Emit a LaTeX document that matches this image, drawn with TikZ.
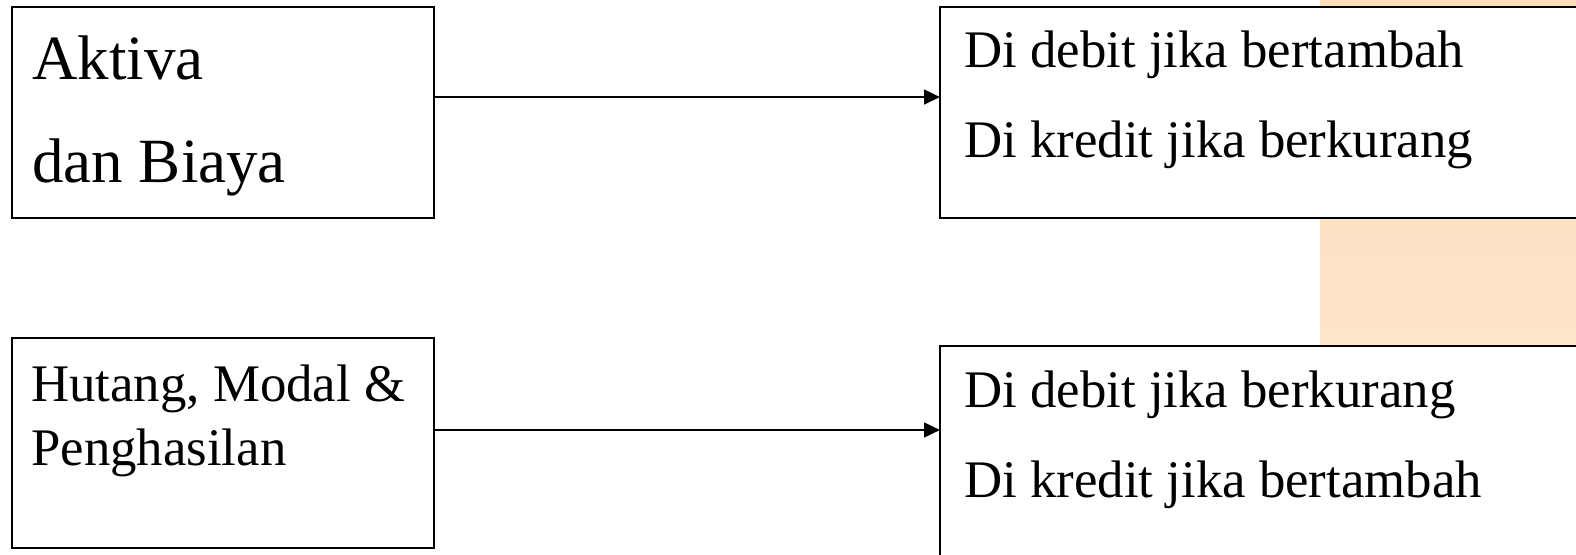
\documentclass[tikz,border=0pt]{standalone}
\usepackage{fontspec}
\setmainfont{Liberation Serif}
\usetikzlibrary{arrows.meta,calc}
\definecolor{oranyeAtas}{RGB}{253,220,184}
\definecolor{oranyeBawah}{RGB}{254,236,214}
\def\px{0.75pt}
\tikzset{
  kotak/.style={draw=black,line width=1.5pt,fill=white,inner sep=0pt,outer sep=0pt,anchor=north west},
  tulisBesar/.style={font=\fontsize{47.25}{56}\selectfont,inner sep=0pt,anchor=base west},
  tulisKecil/.style={font=\fontsize{39.6}{47}\selectfont,inner sep=0pt,anchor=base west},
  panah/.style={line width=2pt,-{Triangle[length=12pt,width=11pt]}}
}
\begin{document}
\begin{tikzpicture}[x=0.75pt,y=-0.75pt]
  \useasboundingbox (0,0) rectangle (1576,555);
  % latar oranye di kanan
  \shade[top color=oranyeAtas,bottom color=oranyeBawah] (1320,0) rectangle (1576,555);
  % kotak kiri
  \node[kotak,minimum width=422*\px,minimum height=211*\px] (aktiva) at (12,7) {};
  \node[kotak,minimum width=422*\px,minimum height=210*\px] (hutang) at (12,338) {};
  % kotak kanan
  \node[kotak,minimum width=700*\px,minimum height=211*\px] (aturan1) at (940,7) {};
  \node[kotak,minimum width=660*\px,minimum height=234*\px] (aturan2) at (940,346) {};
  % tulisan
  \node[tulisBesar] (aktivaA) at ($(aktiva.north west)+(20,73)$) {Aktiva};
  \node[tulisBesar] (aktivaB) at ($(aktivaA.base west)+(0,103)$) {dan Biaya};
  \node[tulisKecil] (hutangA) at ($(hutang.north west)+(19,64)$) {Hutang, Modal \&};
  \node[tulisKecil] (hutangB) at ($(hutangA.base west)+(0,63)$) {Penghasilan};
  \node[tulisKecil] (aturan1A) at ($(aturan1.north west)+(24,61)$) {Di debit jika bertambah};
  \node[tulisKecil] (aturan1B) at ($(aturan1A.base west)+(0,90)$) {Di kredit jika berkurang};
  \node[tulisKecil] (aturan2A) at ($(aturan2.north west)+(24,61)$) {Di debit jika berkurang};
  \node[tulisKecil] (aturan2B) at ($(aturan2A.base west)+(0,90)$) {Di kredit jika bertambah};
  % panah
  \draw[panah] ([yshift=11.6pt]aktiva.east) -- ([yshift=11.6pt]aturan1.west);
  \draw[panah] ([yshift=9.75pt]hutang.east) -- ([yshift=24.75pt]aturan2.west);
\end{tikzpicture}
\end{document}
